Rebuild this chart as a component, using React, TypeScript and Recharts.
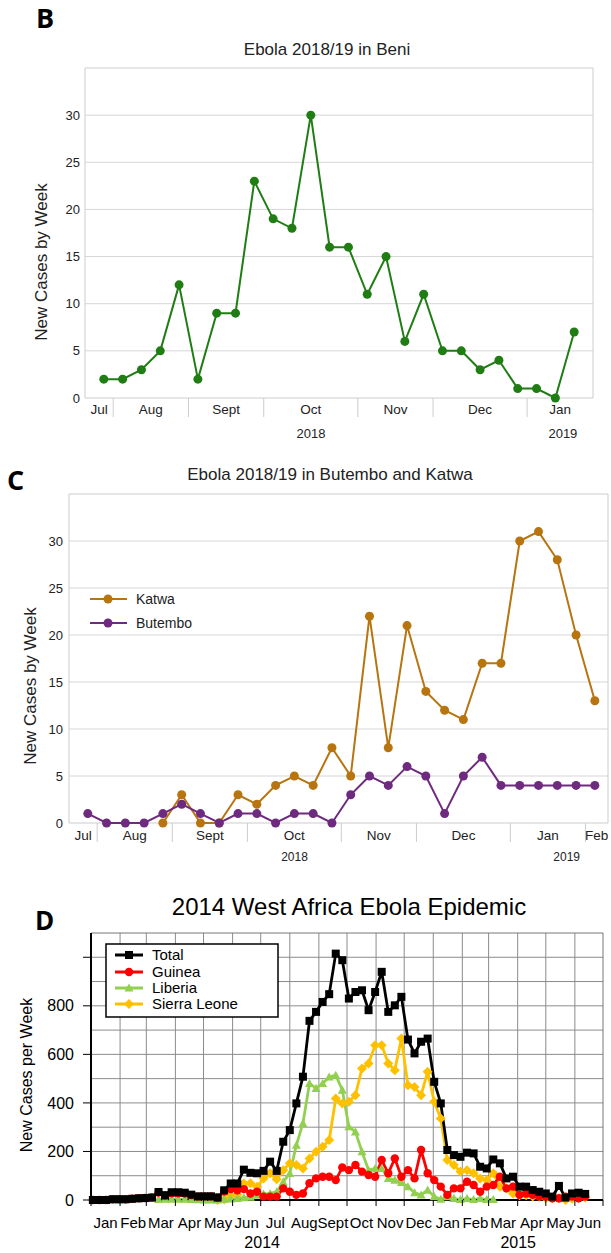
import React from "react";
import {
  LineChart,
  Line,
  XAxis,
  YAxis,
  CartesianGrid,
  ReferenceArea,
} from "recharts";

const FONT = '"Liberation Sans", Arial, sans-serif';
const LETTER_FONT = '"Open Sans", "Noto Sans", sans-serif';

// ─── B: Beni, cases per week (Jul 2018 – Jan 2019) ───────────────────────────
const BENI_CASES = [2, 2, 3, 5, 12, 2, 9, 9, 23, 19, 18, 30, 16, 16, 11, 15, 6, 11, 5, 5, 3, 4, 1, 1, 0, 7];
const BENI_MONTHS = ["Jul", "Aug", "Sept", "Oct", "Nov", "Dec", "Jan"];
const BENI_MONTH_POS = [-0.25, 2.5, 6.5, 11, 15.5, 20, 24.25];
const BENI_SEPARATORS = [0.5, 4.5, 8.5, 13.5, 17.5, 22.5];
const BENI_YEARS = ["2018", "2019"];
const BENI_YEAR_POS = [11.01, 24.4];

// ─── C: Butembo & Katwa ───────────────────────────────────────────────────────
const KATWA = [null, null, null, null, 0, 3, 0, 0, 3, 2, 4, 5, 4, 8, 5, 22, 8, 21, 14, 12, 11, 17, 17, 30, 31, 28, 20, 13];
const BUTEMBO = [1, 0, 0, 0, 1, 2, 1, 0, 1, 1, 0, 1, 1, 0, 3, 5, 4, 6, 5, 1, 5, 7, 4, 4, 4, 4, 4, 4];
const BK_MONTHS = ["Jul", "Aug", "Sept", "Oct", "Nov", "Dec", "Jan", "Feb"];
const BK_MONTH_POS = [-0.25, 2.5, 6.5, 11, 15.5, 20, 24.5, 27.1];
const BK_SEPARATORS = [0.5, 4.5, 8.5, 13.5, 17.5, 22.5, 26.5];
const BK_YEARS = ["2018", "2019"];
const BK_YEAR_POS = [11.01, 25.5];

// ─── D: 2014 West Africa, weekly (first week ≈ 2 Jan 2014) ────────────────────
const TOTAL = [
  0, 0, 0, 3, 3, 3, 5, 7, 8, 10,
  33, 20, 32, 32, 30, 22, 15, 15, 15, 10,
  40, 68, 68, 125, 112, 110, 120, 158, 120, 240,
  288, 398, 508, 738, 775, 816, 848, 1015, 988, 830,
  857, 864, 782, 857, 940, 775, 802, 837, 661, 604,
  652, 665, 487, 398, 206, 185, 178, 195, 192, 137,
  130, 167, 151, 89, 96, 55, 55, 41, 34, 27,
  14, 58, 10, 27, 30, 25,
];
const GUINEA = [
  0, 0, 0, 3, 3, 3, 5, 7, 8, 10,
  31, 17, 28, 28, 27, 20, 14, 15, 15, 10,
  35, 45, 40, 45, 27, 34, 14, 14, 14, 48,
  34, 21, 27, 69, 89, 96, 96, 82, 134, 123,
  144, 117, 103, 96, 165, 110, 171, 96, 123, 89,
  206, 110, 82, 55, 21, 48, 48, 75, 62, 34,
  55, 62, 96, 48, 55, 21, 27, 21, 14, 14,
  7, 7, 14, 14, 7, 14,
];
const LIBERIA = [
  null, null, null, null, null, null, null, null, null, null,
  2, 3, 4, 4, 3, 2, 1, 0, 0, 0,
  3, 5, 7, 10, 12, 20, 25, 27, 34, 75,
  110, 226, 316, 480, 460, 480, 507, 514, 453, 302,
  281, 199, 123, 130, 130, 89, 82, 72, 55, 30,
  21, 41, 14, 3, 14, 7, 2, 7, 2, 7,
  2, 2, null, null, null, null, null, null, null, null,
  null, null, null, null, null, null,
];
const SIERRA_LEONE = [
  null, null, null, null, null, null, null, null, null, null,
  null, null, null, null, null, null, null, null, null, 0,
  2, 18, 22, 68, 69, 55, 89, 110, 85, 123,
  151, 144, 130, 171, 199, 219, 247, 418, 398, 405,
  432, 542, 562, 638, 638, 562, 535, 665, 473, 466,
  432, 528, 405, 336, 165, 144, 117, 123, 110, 89,
  82, 110, 55, 48, 27, 20, 20, 14, 14, 7,
  7, 7, 0, 5, 8, 10,
];
const D_MONTHS = ["Jan", "Feb", "Mar", "Apr", "May", "Jun", "Jul", "Aug", "Sept", "Oct", "Nov", "Dec", "Jan", "Feb", "Mar", "Apr", "May", "Jun"];
// day offsets of month starts, 1 Jan 2014 .. 1 Jul 2015
const D_MONTH_STARTS = [0, 31, 59, 90, 120, 151, 181, 212, 243, 273, 304, 334, 365, 396, 424, 455, 485, 516, 546];
const D_YEARS = ["2014", "2015"];
const D_YEAR_POS = [182.5, 455.6];

const GREEN = "#1f7d14";
const KATWA_C = "#b7740f";
const BUTEMBO_C = "#6e2a7e";
const GUINEA_C = "#ff0000";
const LIBERIA_C = "#92d050";
const SL_C = "#ffc000";

const beniData = BENI_CASES.map((cases, week) => ({ week, cases }));
const bkData = BUTEMBO.map((b, week) => ({ week, katwa: KATWA[week], butembo: b }));
const dData = TOTAL.map((total, i) => ({
  day: 2 + i * 7,
  total,
  guinea: GUINEA[i],
  liberia: LIBERIA[i],
  sl: SIERRA_LEONE[i],
}));

type TickInfo = { kind: "sep" | "month" | "year"; text?: string };

function tickMap(seps: number[], monthPos: number[], months: string[], yearPos: number[], years: string[]) {
  const m = new Map<number, TickInfo>();
  seps.forEach((v) => m.set(v, { kind: "sep" }));
  monthPos.forEach((v, i) => m.set(v, { kind: "month", text: months[i] }));
  yearPos.forEach((v, i) => m.set(v, { kind: "year", text: years[i] }));
  return m;
}

type TickOpts = {
  sepLen: number;
  sepColor: string;
  monthDy: number;
  yearDy: number;
  monthSize: number;
  yearSize: number;
  color: string;
};

const makeTick = (map: Map<number, TickInfo>, o: TickOpts) => (props: any) => {
  const { x, y, payload } = props;
  const info = map.get(payload.value);
  if (!info) return <g />;
  if (info.kind === "sep") {
    return <line x1={x} y1={y} x2={x} y2={y + o.sepLen} stroke={o.sepColor} strokeWidth={1} />;
  }
  const isMonth = info.kind === "month";
  return (
    <text
      x={x}
      y={y + (isMonth ? o.monthDy : o.yearDy)}
      textAnchor="middle"
      fontSize={isMonth ? o.monthSize : o.yearSize}
      fontFamily={FONT}
      fill={o.color}
    >
      {info.text}
    </text>
  );
};

const beniTicks = tickMap(BENI_SEPARATORS, BENI_MONTH_POS, BENI_MONTHS, BENI_YEAR_POS, BENI_YEARS);
const bkTicks = tickMap(BK_SEPARATORS, BK_MONTH_POS, BK_MONTHS, BK_YEAR_POS, BK_YEARS);
const dMonthCenters = D_MONTHS.map((_, i) => (D_MONTH_STARTS[i] + D_MONTH_STARTS[i + 1]) / 2);
const dTicks = tickMap(D_MONTH_STARTS, dMonthCenters, D_MONTHS, D_YEAR_POS, D_YEARS);

const sortedKeys = (m: Map<number, TickInfo>) => Array.from(m.keys()).sort((a, b) => a - b);

// ─── markers for panel D ──────────────────────────────────────────────────────
const squareDot = (color: string, s: number) => (p: any) =>
  p.cy == null || p.value == null ? (
    <g key={p.index} />
  ) : (
    <rect key={p.index} x={p.cx - s / 2} y={p.cy - s / 2} width={s} height={s} fill={color} />
  );
const circleDot = (color: string, r: number) => (p: any) =>
  p.cy == null || p.value == null ? <g key={p.index} /> : <circle key={p.index} cx={p.cx} cy={p.cy} r={r} fill={color} />;
const triDot = (color: string, s: number) => (p: any) =>
  p.cy == null || p.value == null ? (
    <g key={p.index} />
  ) : (
    <polygon
      key={p.index}
      points={`${p.cx},${p.cy - s} ${p.cx + s},${p.cy + s * 0.8} ${p.cx - s},${p.cy + s * 0.8}`}
      fill={color}
    />
  );
const diamondDot = (color: string, s: number) => (p: any) =>
  p.cy == null || p.value == null ? (
    <g key={p.index} />
  ) : (
    <polygon
      key={p.index}
      points={`${p.cx},${p.cy - s} ${p.cx + s},${p.cy} ${p.cx},${p.cy + s} ${p.cx - s},${p.cy}`}
      fill={color}
    />
  );

const smallTick = { fontSize: 13, fill: "#222", fontFamily: FONT };

function BeniChart() {
  return (
    <LineChart width={611} height={440} data={beniData} margin={{ top: 68, right: 18, bottom: 0, left: 0 }}>
      <CartesianGrid vertical={false} horizontalValues={[5, 10, 15, 20, 25, 30]} stroke="#d6d6d6" />
      <ReferenceArea x1={-1} x2={26} y1={0} y2={35} fill="none" stroke="#cdcdcd" />
      <XAxis
        type="number"
        dataKey="week"
        domain={[-1, 26]}
        ticks={sortedKeys(beniTicks)}
        interval={0}
        tick={makeTick(beniTicks, { sepLen: 19, sepColor: "#cdcdcd", monthDy: 16, yearDy: 40, monthSize: 13.5, yearSize: 13, color: "#222" })}
        tickLine={false}
        axisLine={false}
        tickSize={0}
        tickMargin={0}
        height={42}
      />
      <YAxis
        type="number"
        domain={[0, 35]}
        ticks={[0, 5, 10, 15, 20, 25, 30]}
        interval={0}
        width={85}
        tickLine={false}
        axisLine={false}
        tickSize={0}
        tickMargin={5}
        tick={smallTick}
      />
      <Line
        dataKey="cases"
        stroke={GREEN}
        strokeWidth={2}
        dot={{ r: 4.5, fill: GREEN, stroke: GREEN, strokeWidth: 0 }}
        isAnimationActive={false}
      />
    </LineChart>
  );
}

function ButemboKatwaChart() {
  return (
    <LineChart width={611} height={440} data={bkData} margin={{ top: 54, right: 3, bottom: 20, left: 0 }}>
      <CartesianGrid vertical={false} horizontalValues={[5, 10, 15, 20, 25, 30]} stroke="#d6d6d6" />
      <ReferenceArea x1={-1} x2={27.7} y1={0} y2={35} fill="none" stroke="#cdcdcd" />
      <XAxis
        type="number"
        dataKey="week"
        domain={[-1, 27.7]}
        ticks={sortedKeys(bkTicks)}
        interval={0}
        tick={makeTick(bkTicks, { sepLen: 19, sepColor: "#cdcdcd", monthDy: 17, yearDy: 38, monthSize: 13.5, yearSize: 12, color: "#222" })}
        tickLine={false}
        axisLine={false}
        tickSize={0}
        tickMargin={0}
        height={37}
      />
      <YAxis
        type="number"
        domain={[0, 35]}
        ticks={[0, 5, 10, 15, 20, 25, 30]}
        interval={0}
        width={69}
        tickLine={false}
        axisLine={false}
        tickSize={0}
        tickMargin={6}
        tick={smallTick}
      />
      <Line
        dataKey="katwa"
        stroke={KATWA_C}
        strokeWidth={2}
        dot={{ r: 4.5, fill: KATWA_C, stroke: KATWA_C, strokeWidth: 0 }}
        isAnimationActive={false}
      />
      <Line
        dataKey="butembo"
        stroke={BUTEMBO_C}
        strokeWidth={2}
        dot={{ r: 4.5, fill: BUTEMBO_C, stroke: BUTEMBO_C, strokeWidth: 0 }}
        isAnimationActive={false}
      />
    </LineChart>
  );
}

function WestAfricaChart() {
  return (
    <LineChart width={611} height={373} data={dData} margin={{ top: 53, right: 8, bottom: 0, left: 0 }}>
      <CartesianGrid
        horizontalValues={[100, 200, 300, 400, 500, 600, 700, 800, 900, 1000]}
        verticalValues={D_MONTH_STARTS.slice(1, -1)}
        stroke="#8c8c8c"
      />
      <ReferenceArea x1={0} x2={546} y1={0} y2={1100} fill="none" stroke="#777" />
      <XAxis
        type="number"
        dataKey="day"
        domain={[0, 546]}
        ticks={sortedKeys(dTicks)}
        interval={0}
        tick={makeTick(dTicks, { sepLen: 6, sepColor: "#000", monthDy: 28, yearDy: 48, monthSize: 15, yearSize: 16, color: "#000" })}
        tickLine={false}
        axisLine={{ stroke: "#000", strokeWidth: 2 }}
        tickSize={0}
        tickMargin={0}
        height={53}
      />
      <YAxis
        type="number"
        domain={[0, 1100]}
        ticks={[0, 200, 400, 600, 800, 1000]}
        interval={0}
        width={91}
        tickSize={8}
        tickMargin={9}
        tickLine={{ stroke: "#000" }}
        axisLine={{ stroke: "#000", strokeWidth: 2 }}
        tickFormatter={(v: number) => (v === 1000 ? "" : String(v))}
        tick={{ fontSize: 16, fill: "#000", fontFamily: FONT }}
      />
      <Line dataKey="sl" stroke={SL_C} strokeWidth={2.8} dot={diamondDot(SL_C, 5)} isAnimationActive={false} />
      <Line dataKey="liberia" stroke={LIBERIA_C} strokeWidth={2.8} dot={triDot(LIBERIA_C, 4.5)} isAnimationActive={false} />
      <Line dataKey="guinea" stroke={GUINEA_C} strokeWidth={2.8} dot={circleDot(GUINEA_C, 4.2)} isAnimationActive={false} />
      <Line dataKey="total" stroke="#000" strokeWidth={2.8} dot={squareDot("#000", 8)} isAnimationActive={false} />
    </LineChart>
  );
}

// titles, panel letters, axis titles and legends
function Overlay() {
  const t = { fontFamily: FONT, fill: "#222" };
  const dLegend = [
    { name: "Total", color: "#000", y: 955 },
    { name: "Guinea", color: GUINEA_C, y: 972 },
    { name: "Liberia", color: LIBERIA_C, y: 988 },
    { name: "Sierra Leone", color: SL_C, y: 1004 },
  ];
  return (
    <svg width={611} height={1253} style={{ position: "absolute", left: 0, top: 0, pointerEvents: "none" }}>
      <text x={36} y={28} fontFamily={LETTER_FONT} fontWeight={700} fontSize={27} fill="#000">B</text>
      <text x={7} y={490} fontFamily={LETTER_FONT} fontWeight={700} fontSize={27} fill="#000">C</text>
      <text x={35} y={930} fontFamily={LETTER_FONT} fontWeight={700} fontSize={26} fill="#000">D</text>

      <text x={327} y={55} textAnchor="middle" fontSize={17} {...t}>Ebola 2018/19 in Beni</text>
      <text x={330} y={480} textAnchor="middle" fontSize={17} {...t}>Ebola 2018/19 in Butembo and Katwa</text>
      <text x={349} y={915} textAnchor="middle" fontSize={24} fontFamily={FONT} fill="#000">2014 West Africa Ebola Epidemic</text>

      <text x={47} y={262} transform="rotate(-90 47 262)" textAnchor="middle" fontSize={17} {...t}>New Cases by Week</text>
      <text x={36} y={686} transform="rotate(-90 36 686)" textAnchor="middle" fontSize={17} {...t}>New Cases by Week</text>
      <text x={32} y={1075} transform="rotate(-90 32 1075)" textAnchor="middle" fontSize={16} fontFamily={FONT} fill="#000">New Cases per Week</text>

      {/* legend C */}
      <line x1={90} y1={599} x2={127} y2={599} stroke={KATWA_C} strokeWidth={2} />
      <circle cx={108} cy={599} r={4.5} fill={KATWA_C} />
      <text x={136} y={604} fontSize={14} {...t}>Katwa</text>
      <line x1={90} y1={623} x2={127} y2={623} stroke={BUTEMBO_C} strokeWidth={2} />
      <circle cx={108} cy={623} r={4.5} fill={BUTEMBO_C} />
      <text x={136} y={628} fontSize={14} {...t}>Butembo</text>

      {/* legend D */}
      <rect x={106} y={944} width={172} height={73} fill="#fff" stroke="#000" strokeWidth={1.5} />
      {dLegend.map((e, i) => (
        <g key={e.name}>
          <line x1={115} y1={e.y} x2={143} y2={e.y} stroke={e.color} strokeWidth={3} />
          {i === 0 && <rect x={125} y={e.y - 4} width={8} height={8} fill={e.color} />}
          {i === 1 && <circle cx={129} cy={e.y} r={4.2} fill={e.color} />}
          {i === 2 && <polygon points={`129,${e.y - 4.5} 133.5,${e.y + 3.6} 124.5,${e.y + 3.6}`} fill={e.color} />}
          {i === 3 && <polygon points={`129,${e.y - 5} 134,${e.y} 129,${e.y + 5} 124,${e.y}`} fill={e.color} />}
          <text x={152} y={e.y + 5} fontSize={15} fontFamily={FONT} fill="#000">{e.name}</text>
        </g>
      ))}
    </svg>
  );
}

export default function App() {
  return (
    <div style={{ position: "absolute", left: 0, top: 0, width: 611, height: 1253, background: "#fff", overflow: "hidden" }}>
      <div style={{ position: "absolute", left: 0, top: 0 }}>
        <BeniChart />
      </div>
      <div style={{ position: "absolute", left: 0, top: 440 }}>
        <ButemboKatwaChart />
      </div>
      <div style={{ position: "absolute", left: 0, top: 880 }}>
        <WestAfricaChart />
      </div>
      <Overlay />
    </div>
  );
}
